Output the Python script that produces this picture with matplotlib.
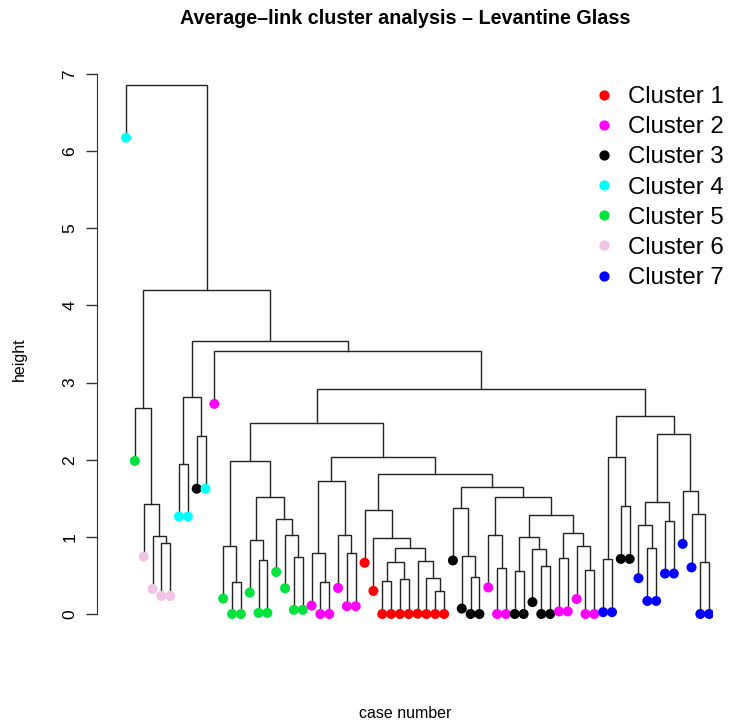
import numpy as np
import matplotlib
matplotlib.use('Agg')
import matplotlib.pyplot as plt
from matplotlib.lines import Line2D

plt.rcParams['font.family'] = ['Liberation Sans', 'DejaVu Sans']

# merge table, R hclust style: negative = leaf (display order), positive = earlier row
merge_left = [-5, -4, -3, -2, -7, -9, 5, -13, -12, -16, -15, -20, -19, -18, 11, 9,
              -23, -22, -26, -25, 18, -30, -32, 22, -36, -35, -34, 24, -29, -28,
              -40, -39, -38, -43, -42, -45, -48, -47, 36, -50, -53, -52, 40, 39, 35,
              33, 30, 21, 16, -55, -57, 50, -60, -59, -62, 54, -66, -65, -64, 56,
              52, 49, -11, 7, 4, -1]
merge_right = [-6, 1, 2, 3, -8, -10, 6, -14, 8, -17, 10, -21, 12, 13, 14, 15,
               -24, 17, -27, 19, 20, -31, -33, 23, -37, 25, 26, 27, 28, 29,
               -41, 31, 32, -44, 34, -46, -49, 37, 38, -51, -54, 41, 42, 43, 44,
               45, 46, 47, 48, -56, -58, 51, -61, 53, -63, 55, -67, 57, 58, 59,
               60, 61, 62, 63, 64, 65]
merge_height = [0.92, 1.01, 1.43, 2.67, 1.95, 2.31, 2.81, 0.42, 0.886, 0.70, 0.963,
                0.74, 1.02, 1.23, 1.52, 1.98, 0.415, 0.795, 0.787, 1.024, 1.72,
                0.43, 0.45, 0.68, 0.30, 0.47, 0.69, 0.85, 0.985, 1.35, 0.48, 0.756,
                1.38, 0.59, 1.03, 0.56, 0.62, 0.84, 1.00, 0.72, 0.57, 0.88, 1.05,
                1.28, 1.52, 1.64, 1.81, 2.035, 2.476, 0.71, 1.40, 2.04, 0.855, 1.15,
                1.21, 1.45, 0.67, 1.29, 1.595, 2.33, 2.57, 2.92, 3.41, 3.545, 4.20,
                6.86]

# cluster membership of the 67 cases, left to right
leaf_cluster = ([4, 5, 6, 6, 6, 6, 4, 4, 3, 4, 2] + [5] * 10 + [2] * 6 + [1] * 10 +
                [3] * 4 + [2] * 3 + [3] * 5 + [2] * 5 + [7, 7, 3, 3] + [7] * 9)

cluster_names = ['Cluster 1', 'Cluster 2', 'Cluster 3', 'Cluster 4',
                 'Cluster 5', 'Cluster 6', 'Cluster 7']
cluster_colors = ['#FF0000', '#FF00FF', '#000000', '#00FFFF',
                  '#00E33A', '#F2C1E6', '#0000FF']

n_leaf = len(leaf_cluster)
hang = 0.1 * max(merge_height)

fig = plt.figure(figsize=(7.29, 7.25), dpi=100)
W, H = 729.0, 725.0
ax = fig.add_axes([97 / W, 1 - 635 / H, (713 - 97) / W, (635 - 64) / H])

node_x = {}
leaf_x = np.zeros(n_leaf)
leaf_y = np.zeros(n_leaf)


def child_pos(c, h_parent):
    # returns (x, top y) of a child, leaves hang below the parent merge
    if c < 0:
        i = -c - 1
        leaf_x[i] = i + 1
        leaf_y[i] = max(0.0, h_parent - hang)
        return leaf_x[i], leaf_y[i]
    return node_x[c], merge_height[c - 1]


for k in range(len(merge_height)):
    h = merge_height[k]
    xl, yl = child_pos(merge_left[k], h)
    xr, yr = child_pos(merge_right[k], h)
    node_x[k + 1] = (xl + xr) / 2.0
    ax.plot([xl, xl, xr, xr], [yl, h, h, yr], color='#222222', lw=1.0,
            solid_joinstyle='miter', zorder=1)

pt_colors = [cluster_colors[c - 1] for c in leaf_cluster]
ax.scatter(leaf_x, leaf_y, s=52, c=pt_colors, edgecolors='none', zorder=3)

ax.set_xlim(1 - 29 / 8.836, 1 + 587 / 8.836)
ax.set_ylim(-21 / 77.14, 7 + 10 / 77.14)

for s in ['top', 'right', 'bottom']:
    ax.spines[s].set_visible(False)
ax.spines['left'].set_bounds(0, 7)
ax.spines['left'].set_color('#333333')
ax.set_xticks([])
ax.set_yticks(range(8))
ax.tick_params(axis='y', length=8, width=1, color='#333333', pad=6, labelsize=12.5)
for lab in ax.get_yticklabels():
    lab.set_rotation(90)
    lab.set_va('center')

fig.text(405 / W, 1 - 18 / H, 'Average\u2013link cluster analysis \u2013 Levantine Glass',
         ha='center', va='center', fontsize=14.2, fontweight='bold')
fig.text(405 / W, 1 - 714 / H, 'case number', ha='center', va='center', fontsize=11.5)
fig.text(19 / W, 1 - 359 / H, 'height', ha='center', va='center', rotation=90,
         fontsize=11.5)

handles = [Line2D([], [], ls='none', marker='o', ms=7.4, mec='none', mfc=col)
           for col in cluster_colors]
fig.legend(handles, cluster_names, loc='upper left',
           bbox_to_anchor=(597 / W, 1 - 86 / H), frameon=False, fontsize=17.3,
           handlelength=0.55, handletextpad=0.72, labelspacing=0.34,
           borderpad=0, borderaxespad=0)

fig.savefig('out.png', dpi=100)
